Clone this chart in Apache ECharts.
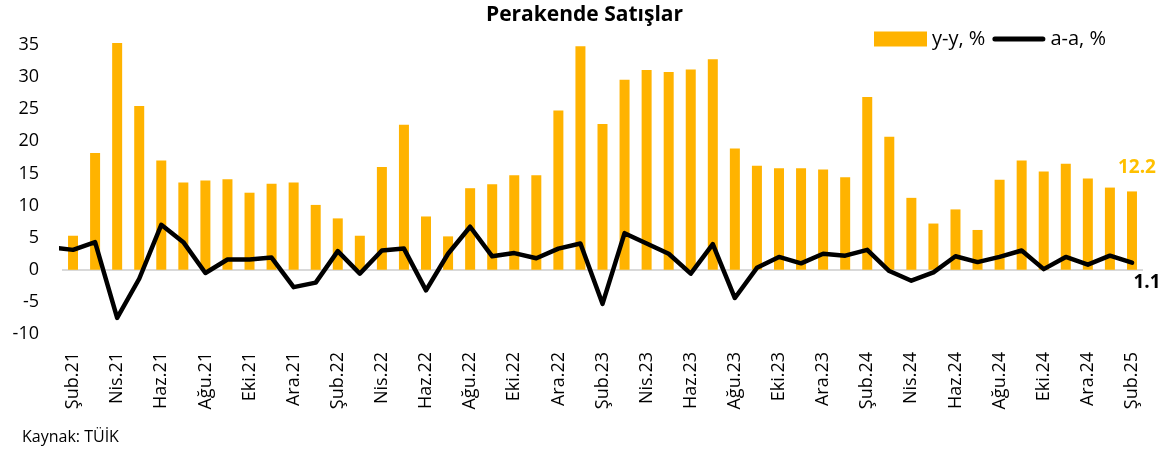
<!DOCTYPE html>
<html>
<head>
<meta charset="utf-8">
<script src="https://cdn.jsdelivr.net/npm/echarts@6/dist/echarts.min.js"></script>
<style>
  html, body { margin: 0; padding: 0; background: #fff; }
  #main { width: 1169px; height: 452px; }
</style>
</head>
<body>
<div id="main"></div>
<script>
// aylar (Şub.21 - Şub.25)
var months = [
    'Şub.21','Mar.21','Nis.21','May.21','Haz.21','Tem.21','Ağu.21','Eyl.21','Eki.21','Kas.21','Ara.21',
    'Oca.22','Şub.22','Mar.22','Nis.22','May.22','Haz.22','Tem.22','Ağu.22','Eyl.22','Eki.22','Kas.22','Ara.22',
    'Oca.23','Şub.23','Mar.23','Nis.23','May.23','Haz.23','Tem.23','Ağu.23','Eyl.23','Eki.23','Kas.23','Ara.23',
    'Oca.24','Şub.24','Mar.24','Nis.24','May.24','Haz.24','Tem.24','Ağu.24','Eyl.24','Eki.24','Kas.24','Ara.24',
    'Oca.25','Şub.25'
];
// yıllık değişim, %
var yoy = [
    5.3, 18.2, 35.3, 25.5, 17.0, 13.6, 13.9, 14.1, 12.0, 13.4, 13.6,
    10.1, 8.0, 5.3, 16.0, 22.6, 8.3, 5.2, 12.7, 13.3, 14.7, 14.7, 24.8,
    34.8, 22.7, 29.6, 31.1, 30.8, 31.2, 32.8, 18.9, 16.2, 15.8, 15.8, 15.6,
    14.4, 26.9, 20.7, 11.2, 7.2, 9.4, 6.2, 14.0, 17.0, 15.3, 16.5, 14.2,
    12.8, 12.2
];
// aylık değişim, % (ilk değer Oca.21, grafik kenarında kesiliyor)
var momMonths = ['Oca.21'].concat(months);
var mom = [
    3.5,
    3.1, 4.3, -7.5, -1.4, 7.0, 4.3, -0.5, 1.6, 1.6, 1.9, -2.7,
    -2.0, 2.9, -0.6, 3.0, 3.3, -3.2, 2.5, 6.7, 2.1, 2.6, 1.8, 3.3,
    4.1, -5.3, 5.7, 4.1, 2.5, -0.6, 4.0, -4.4, 0.3, 2.0, 1.0, 2.5,
    2.2, 3.1, -0.2, -1.7, -0.4, 2.1, 1.2, 2.0, 3.0, 0.1, 2.0, 0.8,
    2.2, 1.1
];
var yTicks = { min: -10, max: 35, interval: 5 };

var font = 'Open Sans';
var chart = echarts.init(document.getElementById('main'));

var barData = yoy.map(function (v, i) {
    if (i !== yoy.length - 1) return v;
    return {
        value: v,
        label: {
            show: true, position: 'top', distance: 14, offset: [5, 0],
            color: '#FFC000', fontFamily: font, fontWeight: 'bold', fontSize: 19,
            formatter: function (p) { return p.value.toFixed(1); }
        }
    };
});

var lineData = mom.map(function (v, i) {
    var item = { value: [i - 1, v], name: momMonths[i] };
    if (i === mom.length - 1) {
        item.label = {
            show: true, position: 'bottom', distance: 10, offset: [15, 0],
            color: '#000', fontFamily: font, fontWeight: 'bold', fontSize: 19,
            formatter: function (p) { return p.value[1].toFixed(1); }
        };
    }
    return item;
});

var option = {
    animation: false,
    title: {
        text: 'Perakende Satışlar',
        left: 'center',
        top: 5,
        padding: 0,
        textStyle: { fontFamily: font, fontWeight: 'bold', fontSize: 21, color: '#000' }
    },
    legend: {
        left: 869,
        top: 24,
        itemGap: 7,
        itemWidth: 53,
        itemHeight: 15,
        textStyle: { fontFamily: font, fontSize: 20, color: '#000' },
        data: [
            { name: 'y-y, %', icon: 'rect' },
            {
                name: 'a-a, %',
                icon: 'path://M2.5,0 L50.5,0 A2.5,2.5 0 0 1 50.5,5 L2.5,5 A2.5,2.5 0 0 1 2.5,0 Z',
                itemStyle: { color: '#000', borderWidth: 0 }
            }
        ]
    },
    grid: { left: 62, right: 26, top: 45, bottom: 118 },
    xAxis: [
        {
            type: 'category',
            data: months,
            axisLine: { show: false },
            axisTick: { show: false },
            axisLabel: {
                interval: 1, rotate: 90, margin: 18,
                fontFamily: font, fontSize: 18, color: '#000'
            }
        },
        { type: 'value', min: -0.5, max: months.length - 0.5, show: false }
    ],
    yAxis: {
        type: 'value',
        min: yTicks.min, max: yTicks.max, interval: yTicks.interval,
        axisLine: { show: false },
        axisTick: { show: false },
        splitLine: { show: false },
        axisLabel: { margin: 23, fontFamily: font, fontSize: 18, color: '#000' }
    },
    series: [
        {
            name: 'y-y, %',
            type: 'bar',
            barWidth: 10,
            clip: false,
            itemStyle: { color: '#FFB300' },
            data: barData,
            markLine: {
                silent: true,
                symbol: 'none',
                label: { show: false },
                lineStyle: { color: '#d9d9d9', width: 2, type: 'solid' },
                data: [{ yAxis: 0 }],
                z: 1
            }
        },
        {
            name: 'a-a, %',
            type: 'line',
            xAxisIndex: 1,
            symbol: 'circle',
            symbolSize: 1,
            showSymbol: true,
            clip: true,
            lineStyle: { color: '#000', width: 4.5, join: 'round', cap: 'round' },
            itemStyle: { color: '#000' },
            data: lineData,
            z: 3
        }
    ],
    graphic: [{
        type: 'text',
        left: 22,
        top: 429,
        style: { text: 'Kaynak: TÜİK', fontFamily: font, fontSize: 16, fill: '#000' }
    }]
};
chart.setOption(option);
</script>
</body>
</html>
